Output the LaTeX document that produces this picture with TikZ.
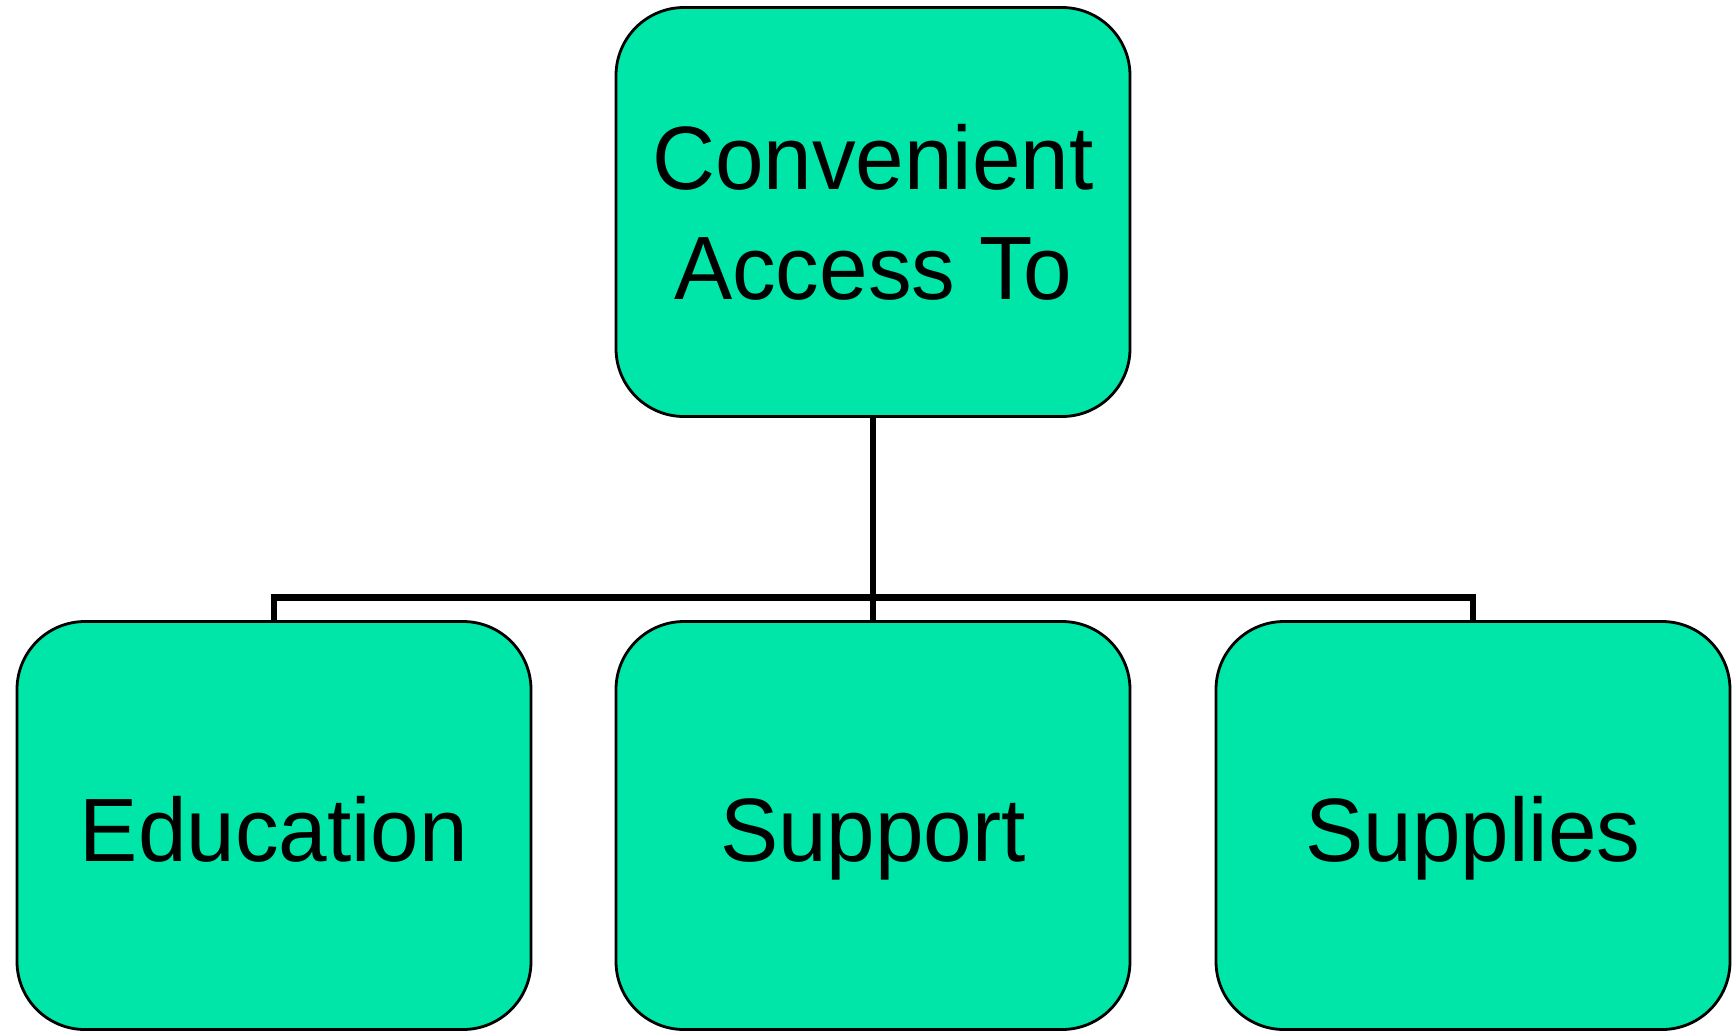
\documentclass[tikz,border=0pt]{standalone}
\usepackage{fontspec}
\setmainfont{Liberation Sans}[FakeStretch=0.97]
\usepackage{xcolor}
\usetikzlibrary{positioning}
\definecolor{boxgreen}{HTML}{00E5A8}

\begin{document}
\begin{tikzpicture}[
box/.style={draw=black,line width=0.8pt,fill=boxgreen,rounded corners=0.68cm,minimum width=5.14cm,minimum height=4.08cm,inner sep=0pt,outer sep=0pt,font=\fontsize{25.6}{31.5}\selectfont},
low/.style={box,text height=0.72cm,text depth=0pt},
link/.style={line width=1.8pt,draw=black}]
\useasboundingbox (0,0) rectangle (17.35,-10.30);
\node[box,align=center,minimum height=4.09cm,text depth=-0.12cm] (acc) at (8.73,-2.12) {Convenient\\Access To};
\node[low,below=2.05cm of acc] (supp) {Support};
\node[low,left=0.85cm of supp] (edu) {Education};
\node[low,right=0.86cm of supp] (supl) {Supplies};
\coordinate (bar) at (8.73,-5.975);
\draw[link] (acc.south) -- (supp.north);
\draw[link] (edu.north) |- (bar) -| (supl.north);
\end{tikzpicture}
\end{document}
